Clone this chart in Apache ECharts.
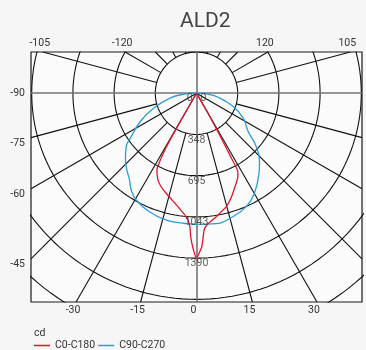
<!DOCTYPE html>
<html><head><meta charset="utf-8">
<script src="https://cdn.jsdelivr.net/npm/echarts@6/dist/echarts.min.js"></script>
<style>html,body{margin:0;padding:0;background:#f6f6f6;}#c{width:366px;height:350px;}</style>
</head><body><div id="c"></div>
<script>
// ---------------- data ----------------
const titleText = 'ALD2';
const unitText = 'cd';
const seriesNames = ['C0-C180', 'C90-C270'];
// gamma angle (deg from nadir) and luminous intensity (cd)
const c0Gamma   = [0, 1, 2, 3.2, 4.5, 9.1, 14.7, 18.5, 21.8, 26.4, 27.8, 28.3, 29, 30, 31];
const c0Cd      = [1390, 1345, 1295, 1155, 1114, 1054, 989, 925, 863, 785, 748, 600, 400, 180, 0];
const c180Gamma = [0, 1.1, 2.2, 3, 4.8, 9.3, 16.9, 21, 24, 27.3, 28.3, 29.3, 29.8, 31];
const c180Cd    = [1390, 1322, 1222, 1112, 1044, 969, 881, 840, 800, 728, 660, 520, 300, 0];
const c90Gamma  = [0, 8.5, 16.4, 23.7, 30.1, 38, 42, 48.2, 53.6, 62, 70, 79, 85, 90];
const c90Cd     = [1105, 1112, 1085, 1044, 975, 856, 794, 676, 540, 446, 330, 190, 95, 0];
const c270Gamma = [0, 6, 13.4, 21.7, 29.5, 34, 37.7, 42.2, 46.8, 52.8, 55.9, 63.4, 71, 79.8, 85, 90];
const c270Cd    = [1105, 1102, 1099, 1075, 1034, 984, 924, 874, 822, 745, 672, 528, 381, 223, 115, 0];
// radial scale (cd)
const radialLabelValues = [0, 347.5, 695, 1042.5, 1390];
const circleValues = [347.5, 695, 1042.5, 1390, 1737.5, 2085, 2432.5];
// angular grid (deg, negative = left half)
const spokeAngles = [-165, -150, -135, -120, -105, -75, -60, -45, -30, -15, 15, 30, 45, 60, 75, 105, 120, 135, 150, 165];
const spokesFromCentre = [-60, -30, 30, 60];
const mainAxisAngles = [0, 90, 180, -90];
// angle labels on the frame
const topTickAngles = [-105, -120, 120, 105];
const leftTickAngles = [-90, -75, -60, -45];
const bottomTickAngles = [-30, -15, 0, 15, 30];

// ---------------- layout ----------------
const FONT = 'Roboto, "Liberation Sans", sans-serif';
const GRID = {left: 31, top: 52, width: 331, height: 250};
const X_MAX = 1396, Y_MAX = 347.5, Y_MIN = -1760;
const CD_PER_PX = (2 * X_MAX) / GRID.width;
const INNER_R = 347.5;
const RED = '#e2132b', BLUE = '#2b9dd6', GRIDC = '#111111', AXISC = '#747474';

const rad = d => d * Math.PI / 180;
const dir = g => [Math.sin(rad(g)), -Math.cos(rad(g))];
const toXY = (g, I) => { const d = dir(g); return [I * d[0], I * d[1]]; };

function profile(leftG, leftI, rightG, rightI) {
  const pts = [];
  for (let i = leftG.length - 1; i >= 0; i--) pts.push(toXY(-leftG[i], leftI[i]));
  for (let i = 0; i < rightG.length; i++) {
    if (i === 0 && rightG[0] === 0 && leftG[0] === 0) continue;
    pts.push(toXY(rightG[i], rightI[i]));
  }
  return pts;
}
function rayEnd(g) {
  const d = dir(g); let t = Infinity;
  if (d[0] > 1e-9) t = Math.min(t, X_MAX / d[0]);
  if (d[0] < -1e-9) t = Math.min(t, -X_MAX / d[0]);
  if (d[1] > 1e-9) t = Math.min(t, Y_MAX / d[1]);
  if (d[1] < -1e-9) t = Math.min(t, Y_MIN / d[1]);
  return t;
}
const spokeData = [];
spokeAngles.forEach(g => {
  const r0 = spokesFromCentre.includes(g) ? 0 : INNER_R;
  const t = rayEnd(g);
  if (t > r0) spokeData.push({coords: [toXY(g, r0), toXY(g, t)]});
});
const mainAxisData = mainAxisAngles.map(g => ({coords: [[0, 0], toXY(g, rayEnd(g))]}));
const circleSeries = circleValues.map(r => {
  const pts = [];
  for (let a = 0; a <= 360; a += 2) pts.push(toXY(a, r));
  return {type: 'line', data: pts, showSymbol: false, symbol: 'none', silent: true, clip: true, z: 1,
          lineStyle: {color: GRIDC, width: 1.1}, animation: false};
});

// frame label positions
const xShift = -3 * CD_PER_PX, yShift = -5.5 * CD_PER_PX;
const topVals = topTickAngles.map(g => { const d = dir(g); return Y_MAX / d[1] * d[0] + xShift; });
const bottomVals = bottomTickAngles.map(g => { const d = dir(g); return Y_MIN / d[1] * d[0] + xShift; });
const leftVals = leftTickAngles.map(g => { const d = dir(g); return -X_MAX / d[0] * d[1] + (Math.abs(g) === 90 ? 0 : yShift); });
function nearestFormatter(vals, angles) {
  return v => { let bi = 0, bd = Infinity; vals.forEach((p, i) => { const dd = Math.abs(p - v); if (dd < bd) { bd = dd; bi = i; } }); return String(angles[bi]); };
}
const labelStyle = {fontSize: 10.5, color: '#333', fontFamily: FONT};
const baseAxis = {type: 'value', axisLine: {show: false}, axisTick: {show: false}, splitLine: {show: false}};

const chart = echarts.init(document.getElementById('c'), null, {renderer: 'canvas'});
chart.setOption({
  animation: false,
  backgroundColor: '#f6f6f6',
  title: [
    {text: titleText, left: 175, top: 6, textStyle: {fontSize: 21, fontWeight: 'normal', color: '#444', fontFamily: FONT}},
    {text: unitText, left: 29, top: 323, textStyle: {fontSize: 10.5, fontWeight: 'normal', color: '#333', fontFamily: FONT}}
  ],
  legend: {data: seriesNames, left: 29, top: 335, icon: 'rect', itemWidth: 16, itemHeight: 1.5, itemGap: 3,
           textStyle: {fontSize: 10.5, color: '#333', fontFamily: FONT}},
  grid: Object.assign({show: true, borderColor: '#1a1a1a', borderWidth: 1.2, backgroundColor: '#fbfbfb'}, GRID),
  xAxis: [
    Object.assign({}, baseAxis, {min: -X_MAX, max: X_MAX, position: 'bottom',
      axisLabel: Object.assign({customValues: bottomVals, formatter: nearestFormatter(bottomVals, bottomTickAngles), margin: 3}, labelStyle)}),
    Object.assign({}, baseAxis, {min: -X_MAX, max: X_MAX, position: 'top',
      axisLabel: Object.assign({customValues: topVals, formatter: nearestFormatter(topVals, topTickAngles), margin: 3}, labelStyle)})
  ],
  yAxis: [
    Object.assign({}, baseAxis, {min: Y_MIN, max: Y_MAX, position: 'left',
      axisLabel: Object.assign({customValues: leftVals, formatter: nearestFormatter(leftVals, leftTickAngles), margin: 6}, labelStyle)})
  ],
  series: circleSeries.concat([
    {type: 'lines', coordinateSystem: 'cartesian2d', data: spokeData, silent: true, z: 1,
     lineStyle: {color: GRIDC, width: 1.1, opacity: 1, curveness: 0}},
    {type: 'lines', coordinateSystem: 'cartesian2d', data: mainAxisData, silent: true, z: 2,
     lineStyle: {color: AXISC, width: 1.6, opacity: 1, curveness: 0}},
    {name: seriesNames[0], type: 'line', data: profile(c180Gamma, c180Cd, c0Gamma, c0Cd), symbol: 'none',
     smooth: 0.15, z: 4, silent: true, color: RED, lineStyle: {color: RED, width: 1.3}},
    {name: seriesNames[1], type: 'line', data: profile(c270Gamma, c270Cd, c90Gamma, c90Cd), symbol: 'none',
     smooth: 0.45, z: 3, silent: true, color: BLUE, lineStyle: {color: BLUE, width: 1.3}},
    {type: 'scatter', data: radialLabelValues.map(v => [0, -v]), symbolSize: 0, silent: true, z: 6,
     label: {show: true, position: 'bottom', distance: 0, fontSize: 10.5, color: '#333', fontFamily: FONT,
             formatter: p => { const v = -p.value[1]; return v === 0 ? '0   0' : String(Math.round(v)); }}}
  ])
});
</script></body></html>
